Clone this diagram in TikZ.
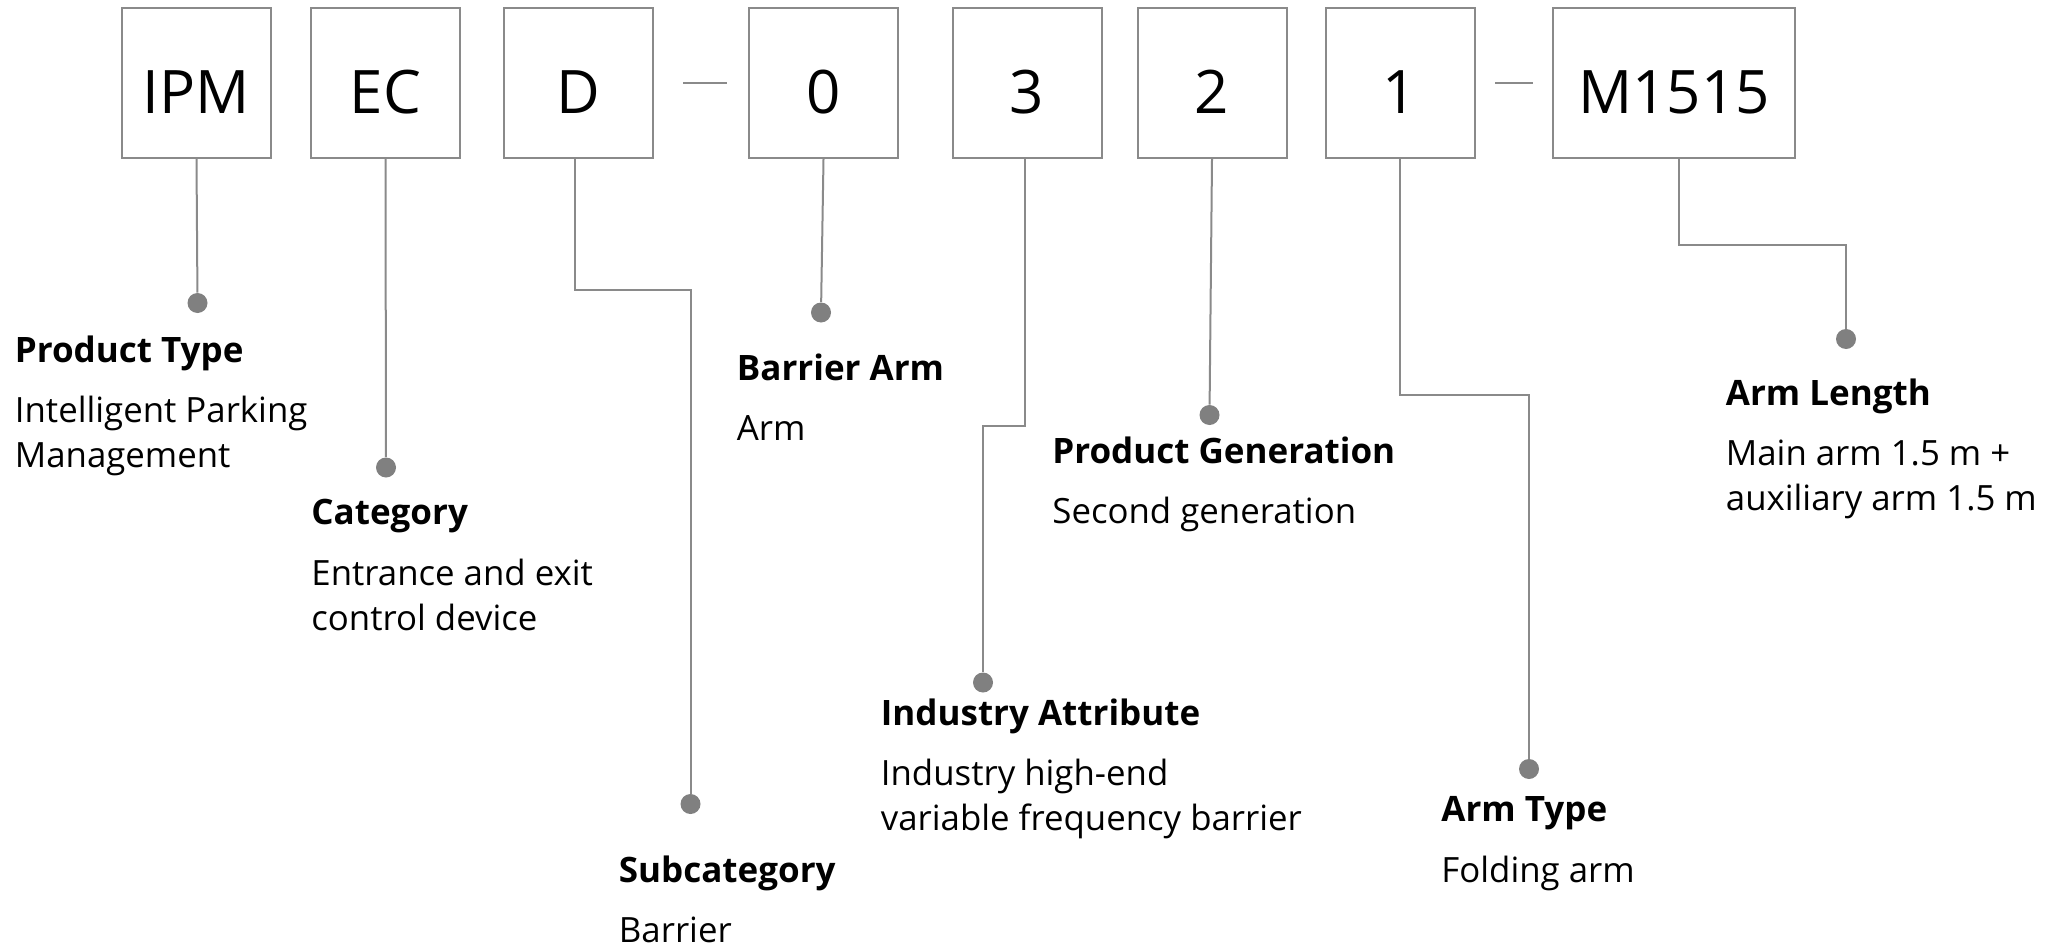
\documentclass[tikz,border=0pt]{standalone}
\usepackage{fontspec}
\setmainfont{Open Sans}
\usepackage{xcolor}
\definecolor{lngray}{RGB}{138,138,138}
\definecolor{dotgray}{RGB}{128,128,128}
\usepackage{tikz}
\usetikzlibrary{positioning}

\begin{document}
\begin{tikzpicture}[x=0.5pt, y=-0.5pt,
  codebox/.style={rectangle, draw=lngray, line width=1pt, fill=white,
                  minimum width=74.5pt, minimum height=75pt, inner sep=0pt,
                  font=\fontsize{30pt}{36pt}\selectfont, text height=30pt, text depth=0pt},
  dot/.style={circle, fill=dotgray, minimum size=10pt, inner sep=0pt},
  link/.style={draw=lngray, line width=1pt},
  ttl/.style={anchor=base west, inner sep=0pt,
              font=\fontsize{17.5pt}{22.5pt}\selectfont\bfseries},
  desc/.style={anchor=base west, inner sep=0pt, align=left,
               font=\fontsize{17.4pt}{22.5pt}\selectfont}
]
\useasboundingbox (0,0) rectangle (2066,947);

% Code boxes
\node[codebox] (ipm) at ( 196.5,83) {IPM};
\node[codebox] (ec)  at ( 385.5,83) {EC};
\node[codebox] (d)   at ( 578,83)   {D};
\node[codebox] (n0)  at ( 823.5,83) {0};
\node[codebox] (n3)  at (1027,83)   {3};
\node[codebox] (n2)  at (1212,83)   {2};
\node[codebox] (n1)  at (1400,83)   {1};
\node[codebox, minimum width=121pt] (m) at (1674,83) {M1515};

% Separators
\draw[link] ([xshift=14.75pt]d.east)  -- ([xshift=-10.5pt]n0.west);
\draw[link] ([xshift=9.75pt]n1.east) -- ([xshift=-9.5pt]m.west);

% Dots
\node[dot] (dipm) at ( 197.5,303)   {};
\node[dot] (dec)  at ( 386,467.5)   {};
\node[dot] (dd)   at ( 690.5,804)   {};
\node[dot] (d0)   at ( 821,312.5)   {};
\node[dot] (d3)   at ( 983,682.5)   {};
\node[dot] (d2)   at (1209.5,415)   {};
\node[dot] (d1)   at (1529,769)     {};
\node[dot] (dm)   at (1846,339)     {};

% Leaders
\draw[link] (ipm.south) -- (dipm);
\draw[link] (ec.south)  -- (dec);
\draw[link] ([xshift=-1.75pt]d.south) -- ++(0,130.5) -| (dd);
\draw[link] (n0.south)  -- (d0);
\draw[link] ([xshift=-1pt]n3.south) -- ++(0,267) -| (d3);
\draw[link] (n2.south)  -- (d2);
\draw[link] (n1.south)  -- ++(0,235.5) -| (d1);
\draw[link] ([xshift=2.3pt]m.south) -- ++(0,86) -| (dm);

% Labels (two-line texts sit on their last baseline)
\node[ttl] (tipm) at (14.5,362) {Product Type};
\node[desc] at ([yshift=-52.75pt]tipm.base west) {Intelligent Parking\\Management};

\node[ttl] (tec) at (311,524.5) {Category};
\node[desc] at ([yshift=-52.75pt]tec.base west) {Entrance and exit\\control device};

\node[ttl] (td) at (618.5,882) {Subcategory};
\node[desc] at ([yshift=-30.25pt]td.base west) {Barrier};

\node[ttl] (t0) at (736.5,380) {Barrier Arm};
\node[desc] at ([yshift=-30.25pt]t0.base west) {Arm};

\node[ttl] (t3) at (880.5,725) {Industry Attribute};
\node[desc] at ([yshift=-52.75pt]t3.base west) {Industry high-end\\variable frequency barrier};

\node[ttl] (t2) at (1052,463) {Product Generation};
\node[desc] at ([yshift=-30.25pt]t2.base west) {Second generation};

\node[ttl] (t1) at (1441,821.5) {Arm Type};
\node[desc] at ([yshift=-30.25pt]t1.base west) {Folding arm};

\node[ttl] (tm) at (1725.5,405) {Arm Length};
\node[desc] at ([yshift=-52.75pt]tm.base west) {Main arm 1.5 m +\\auxiliary arm 1.5 m};
\end{tikzpicture}
\end{document}
